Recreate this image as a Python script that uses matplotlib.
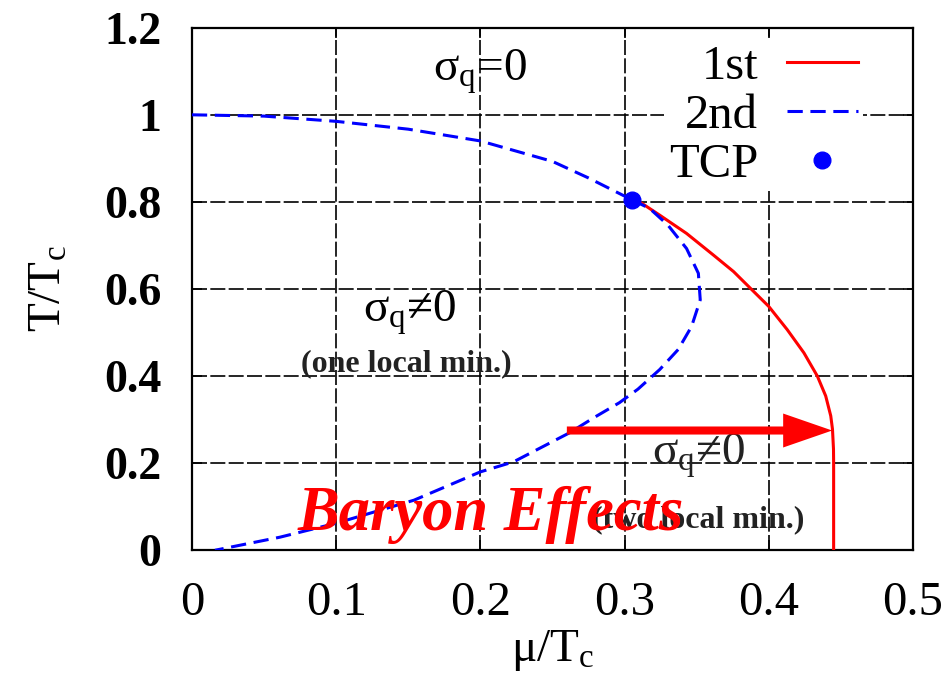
"""
Фазовая диаграмма в плоскости (mu/T_c, T/T_c): линия переходов 2-го рода,
линия 1-го рода и трикритическая точка (TCP), с подписями областей.
"""

import numpy as np
import matplotlib
matplotlib.use("Agg")
import matplotlib.pyplot as plt

plt.rcParams["font.family"] = ["Liberation Serif", "DejaVu Serif"]
plt.rcParams["mathtext.fontset"] = "custom"
plt.rcParams["mathtext.rm"] = "Liberation Serif"
plt.rcParams["mathtext.it"] = "Liberation Serif:italic"
plt.rcParams["mathtext.bf"] = "Liberation Serif:bold"

# --- линия 2-го рода: верхняя ветвь (0,1) -> TCP ---
MU_2ND_UP = [0.0, 0.05, 0.10, 0.15, 0.20, 0.25, 0.275, 0.305]
T_2ND_UP = [1.0, 0.997, 0.985, 0.967, 0.94, 0.893, 0.855, 0.805]

# --- линия 2-го рода: нижняя ветвь TCP -> T=0 ---
MU_2ND_LO = [0.305, 0.3174, 0.330, 0.343, 0.3512, 0.3525, 0.3465, 0.3372,
             0.3244, 0.3093, 0.2965, 0.279, 0.262, 0.223, 0.20, 0.154,
             0.10, 0.061, 0.016]
T_2ND_LO = [0.805, 0.785, 0.747, 0.693, 0.636, 0.575, 0.514, 0.461,
            0.415, 0.370, 0.339, 0.305, 0.27, 0.203, 0.18, 0.115,
            0.062, 0.03, 0.0]

# --- линия 1-го рода: TCP -> (0.445, 0) ---
MU_1ST = [0.305, 0.3105, 0.3244, 0.343, 0.3616, 0.3756, 0.3872, 0.400,
          0.4128, 0.4244, 0.4337, 0.4395, 0.443, 0.4442, 0.4449, 0.445,
          0.445, 0.445]
T_1ST = [0.805, 0.800, 0.7695, 0.7276, 0.678, 0.640, 0.6019, 0.560,
         0.5067, 0.4533, 0.400, 0.3543, 0.3086, 0.278, 0.2324, 0.20,
         0.10, 0.0]

TCP = (0.305, 0.805)

# стрелка "Baryon Effects": начало и конец по mu, уровень по T
ARROW_MU = (0.26, 0.444)
ARROW_T = 0.275

X_TICKS = [0.0, 0.1, 0.2, 0.3, 0.4, 0.5]
X_TICKLABELS = ["0", "0.1", "0.2", "0.3", "0.4", "0.5"]
Y_TICKS = [0.0, 0.2, 0.4, 0.6, 0.8, 1.0, 1.2]
Y_TICKLABELS = ["0", "0.2", "0.4", "0.6", "0.8", "1", "1.2"]

fig = plt.figure(figsize=(9.5, 6.76), dpi=100)
ax = fig.add_axes([0.202, 0.186, 0.759, 0.773])

ax.set_xlim(0.0, 0.5)
ax.set_ylim(0.0, 1.2)

ax.grid(True, color="black", linestyle=(0, (9, 2)), linewidth=1.2, zorder=0)
ax.set_axisbelow(True)

blue_dash = (0, (5, 2.5))
ax.plot(MU_1ST, T_1ST, color="red", lw=2.2, label="1st", zorder=3,
        solid_joinstyle="round")
ax.plot(MU_2ND_UP, T_2ND_UP, color="blue", lw=2.2, linestyle=blue_dash,
        label="2nd", zorder=3)
ax.plot(MU_2ND_LO, T_2ND_LO, color="blue", lw=2.2, linestyle=blue_dash,
        zorder=3)
ax.plot([TCP[0]], [TCP[1]], "o", color="blue", markersize=12, label="TCP",
        linestyle="none", zorder=4)

# подписи областей
txt_big = 34
ax.text(0.20, 1.078, r"σ$_\mathrm{q}$=0", fontsize=txt_big, ha="center",
        va="baseline", zorder=2)
ax.text(0.151, 0.524, r"σ$_\mathrm{q}$≠0", fontsize=txt_big, ha="center",
        va="baseline", zorder=2)
ax.text(0.149, 0.411, "(one local min.)", fontsize=23, fontweight="bold",
        ha="center", va="baseline", color="#222222", zorder=2)
ax.text(0.351, 0.196, r"σ$_\mathrm{q}$≠0", fontsize=txt_big, ha="center",
        va="baseline", color="#222222", zorder=2)
ax.text(0.351, 0.053, "(two local min.)", fontsize=23, fontweight="bold",
        ha="center", va="baseline", color="#222222", zorder=2)

# горизонтальная стрелка: ширины по T, длина головки по mu
ax.arrow(ARROW_MU[0], ARROW_T, ARROW_MU[1] - ARROW_MU[0], 0.0,
         width=0.0185, head_width=0.078, head_length=0.034,
         length_includes_head=True, color="red", lw=0, zorder=5)
ax.text(0.207, 0.046, "Baryon Effects", fontsize=45, fontweight="bold",
        fontstyle="italic", color="red", ha="center", va="baseline", zorder=6)

ax.set_xticks(X_TICKS)
ax.set_xticklabels(X_TICKLABELS, fontsize=35)
ax.set_yticks(Y_TICKS)
ax.set_yticklabels(Y_TICKLABELS, fontsize=33, fontweight="bold")
ax.tick_params(axis="both", direction="in", length=7, width=1.2,
               top=True, right=True)
ax.tick_params(axis="x", pad=22)
ax.tick_params(axis="y", pad=22)

ax.set_xlabel(r"μ/T$_\mathrm{c}$", fontsize=34, labelpad=2)
ax.set_ylabel(r"T/T$_\mathrm{c}$", fontsize=34, labelpad=24)

for sp in ax.spines.values():
    sp.set_linewidth(1.6)
    sp.set_color("black")

leg = ax.legend(loc="upper right", markerfirst=False, fontsize=35,
                frameon=True, framealpha=1.0, facecolor="white",
                edgecolor="none", fancybox=False, handlelength=1.45,
                handletextpad=0.6, labelspacing=0.1, borderpad=0.1,
                borderaxespad=0.25, numpoints=1)
leg.set_bbox_to_anchor((0.947, 1.0), transform=ax.transAxes)
leg.set_zorder(7)

fig.savefig("out.png", dpi=100)
